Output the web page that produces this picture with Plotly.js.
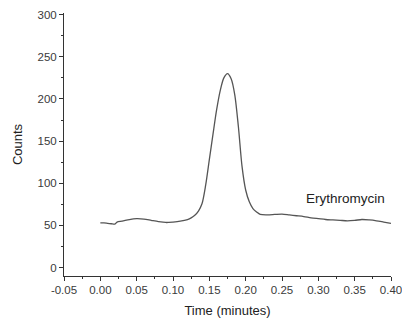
<!DOCTYPE html>
<html>
<head>
<meta charset="utf-8">
<script src="https://cdn.plot.ly/plotly-3.0.1.min.js"></script>
<style>html,body{margin:0;padding:0;background:#fff;}#chart{width:402px;height:322px;}</style>
</head>
<body>
<div id="chart"></div>
<script>
var time = [0.000, 0.005, 0.010, 0.015, 0.020, 0.023, 0.030, 0.040, 0.050, 0.060, 0.070, 0.080, 0.090, 0.100, 0.110, 0.120, 0.125, 0.130, 0.135, 0.140, 0.145, 0.150, 0.155, 0.160, 0.165, 0.170, 0.175, 0.180, 0.185, 0.190, 0.195, 0.200, 0.205, 0.210, 0.215, 0.220, 0.230, 0.240, 0.250, 0.260, 0.270, 0.280, 0.290, 0.300, 0.310, 0.320, 0.330, 0.340, 0.350, 0.360, 0.370, 0.380, 0.390, 0.400];
var counts = [53, 53, 52.5, 52, 51.5, 54, 55, 57, 58, 57.5, 56, 54.5, 53.5, 54, 55, 57, 59, 62, 67, 76, 98, 128, 158, 187, 210, 225, 230, 224, 205, 167, 120, 92, 78, 70, 66, 63, 62.5, 63, 63.5, 62.5, 61.5, 60.5, 59, 58, 57, 56.5, 56, 55.5, 56, 57, 56.5, 55.5, 54, 52.5];
var xTickVals = [-0.05, 0, 0.05, 0.10, 0.15, 0.20, 0.25, 0.30, 0.35, 0.40];
var xTickText = ["-0.05", "0.00", "0.05", "0.10", "0.15", "0.20", "0.25", "0.30", "0.35", "0.40"];
var yTickVals = [0, 50, 100, 150, 200, 250, 300];
var seriesLabel = "Erythromycin";

var fontFam = "Arial, 'Liberation Sans', sans-serif";
var trace = {
  x: time, y: counts, type: 'scatter', mode: 'lines',
  line: {color: '#555', width: 1.3, shape: 'spline', smoothing: 0.8},
  hoverinfo: 'none'
};
var axCommon = {
  showline: true, linecolor: '#333', linewidth: 1,
  showgrid: false, zeroline: false,
  ticks: 'outside', ticklen: 4, tickwidth: 1, tickcolor: '#333',
  tickfont: {family: fontFam, size: 11.5, color: '#3a3a3a'},
  ticklabeloverflow: 'allow',
  mirror: false
};
var layout = {
  width: 402, height: 322,
  margin: {l: 64, r: 11, t: 13, b: 46},
  paper_bgcolor: '#fff', plot_bgcolor: '#fff',
  showlegend: false,
  xaxis: Object.assign({}, axCommon, {
    range: [-0.05, 0.40],
    tickmode: 'array', tickvals: xTickVals, ticktext: xTickText,
    ticklabelstandoff: -1,
    minor: {dtick: 0.025, tick0: 0, ticks: 'outside', ticklen: 2, tickcolor: '#333', showgrid: false},
    title: {text: 'Time (minutes)', font: {family: fontFam, size: 13, color: '#222'}, standoff: 11}
  }),
  yaxis: Object.assign({}, axCommon, {
    range: [-10, 302],
    tickmode: 'array', tickvals: yTickVals,
    minor: {dtick: 25, tick0: 0, ticks: 'outside', ticklen: 2, tickcolor: '#333', showgrid: false},
    title: {text: 'Counts', font: {family: fontFam, size: 13, color: '#222'}, standoff: 11}
  }),
  annotations: [{
    x: 0.338, y: 82, xref: 'x', yref: 'y', text: seriesLabel, showarrow: false,
    font: {family: fontFam, size: 13.5, color: '#222'}
  }]
};
Plotly.newPlot('chart', [trace], layout, {displayModeBar: false, staticPlot: true});
</script>
</body>
</html>
